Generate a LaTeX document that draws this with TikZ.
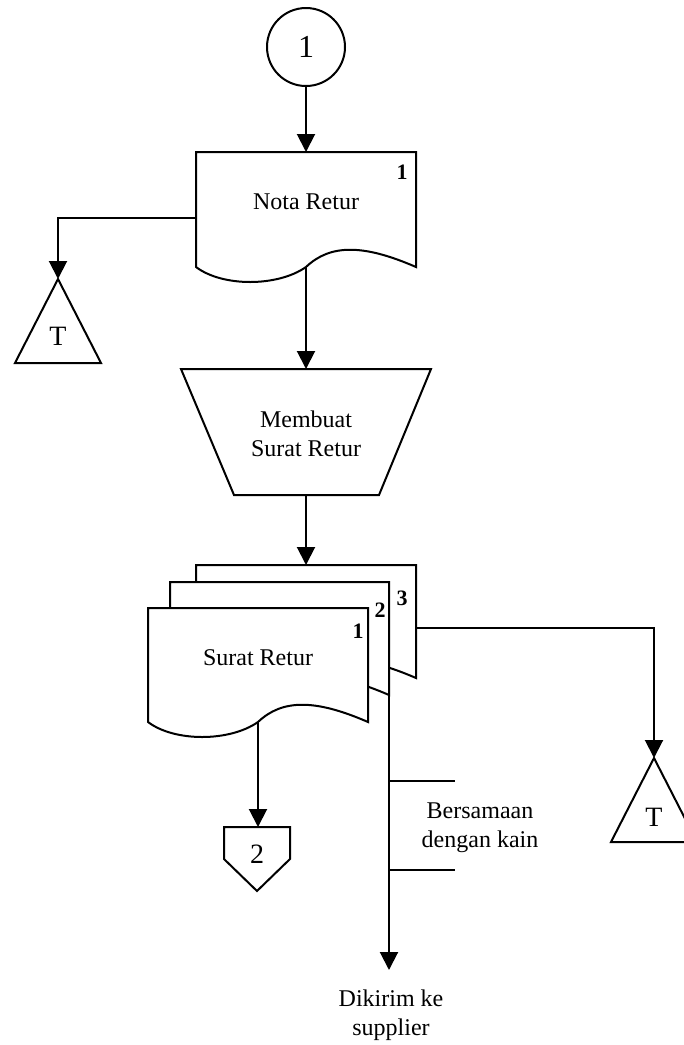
\documentclass[tikz,border=0pt]{standalone}
\usepackage{fontspec}
\setmainfont{Liberation Serif}
\usetikzlibrary{arrows.meta}
\def\docshape[#1](#2,#3,#4,#5){\draw[fill=white] (#2,#5) -- (#2,#3) -- (#4,#3) -- (#4,#5) .. controls ({#2+0.76*(#4-#2)},{#5-23}) and ({#2+0.61*(#4-#2)},{#5-23}) .. ({#2+0.5*(#4-#2)},#5) coordinate (#1) .. controls ({#2+0.37*(#4-#2)},{#5+20}) and ({#2+0.12*(#4-#2)},{#5+20}) .. (#2,#5) -- cycle;}
\tikzset{
	flow/.style={-{Triangle[length=9pt,width=9pt]}},
	num/.style={font=\fontsize{11}{13}\selectfont\bfseries},
	txt/.style={align=center, font=\fontsize{12}{14.5}\selectfont},
}

\begin{document}
\begin{tikzpicture}[x=0.5pt, y=-0.5pt, line width=1pt, line join=miter]
		%%%%% START %%%%%
		\useasboundingbox (0,0) rectangle (684,1045);
		
		\node[draw, circle, minimum size=39pt, inner sep=0pt, font=\fontsize{16}{18}\selectfont] (con1) at (306,47) {1};
		
		\docshape[nr-bot](196,152,416,267);
		\node[txt] (notaretur) at (306,202) {Nota Retur};
		\node[num] (nr-no) at (402,172) {1};
		
		\draw (58,279) -- (101,363) -- (15,363) -- cycle;
		\node[txt, font=\fontsize{14}{16}\selectfont] (tleft) at (58,336) {T};
		
		\draw (181,369) -- (431,369) -- (379,495) -- (234,495) -- cycle;
		\node[txt] (membuat) at (306,434) {Membuat\\Surat Retur};
		
		\docshape[s3-bot](196,565,416,678);
		\docshape[s2-bot](170,582,389,695);
		\docshape[s1-bot](148,608,368,722);
		\node[num] (s3-no) at (402,598) {3};
		\node[num] (s2-no) at (380,610) {2};
		\node[num] (s1-no) at (358,631) {1};
		\node[txt] (suratretur) at (258,658) {Surat Retur};
		
		\draw (224,827) -- (290,827) -- (290,859) -- (257,891) -- (224,859) -- cycle;
		\node[txt, font=\fontsize{14}{16}\selectfont] (con2) at (257,854) {2};
		
		\draw (654,758) -- (697,842) -- (611,842) -- cycle;
		\node[txt, font=\fontsize{14}{16}\selectfont] (tright) at (654,817) {T};
		
		\node[txt] (bersamaan) at (480,828) {Bersamaan\\dengan kain};
		\node[txt] (dikirim) at (391,1015) {Dikirim ke\\supplier};
		
		% connectors
		\coordinate (nr-top) at (306,152);
		\coordinate (nr-left) at (196,218);
		\coordinate (tleft-top) at (58,279);
		\coordinate (mk-top) at (306,369);
		\coordinate (mk-bot) at (306,495);
		\coordinate (s3-top) at (306,565);
		\coordinate (s3-right) at (416,628);
		\coordinate (tright-top) at (654,758);
		\coordinate (con2-top) at (258,827);
		\coordinate (s2-corner) at (389,695);
		\coordinate (sup-end) at (389,970);
		\coordinate (note-a) at (389,781);
		\coordinate (note-b) at (389,870);
		
		\draw[flow] (con1) -- (nr-top);
		\draw[flow] (nr-left) -| (tleft-top);
		\draw[flow] (nr-bot) -- (mk-top);
		\draw[flow] (mk-bot) -- (s3-top);
		\draw[flow] (s3-right) -| (tright-top);
		\draw[flow] (s1-bot) -- (con2-top);
		\draw[flow] (s2-corner) -- (sup-end);
		\draw (note-a) -- ++(66,0);
		\draw (note-b) -- ++(66,0);
		
		%%%%% END %%%%%
	\end{tikzpicture}
\end{document}
